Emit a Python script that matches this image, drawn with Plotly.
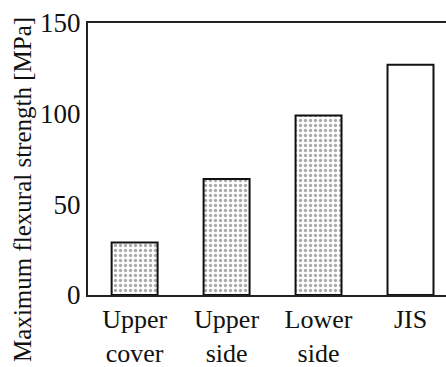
import plotly.graph_objects as go

categories = ["Upper<br>cover", "Upper<br>side", "Lower<br>side", "JIS"]
strength = [29, 64, 99, 127]
pattern_shapes = [".", ".", ".", ""]
y_ticks = [0, 50, 100, 150]

FONT = "Liberation Serif"

fig = go.Figure()
fig.add_trace(go.Bar(
    x=list(range(len(categories))),
    y=strength,
    width=0.5,
    marker=dict(
        color="white",
        line=dict(color="#111111", width=2),
        pattern=dict(shape=pattern_shapes, fgcolor="#555555", bgcolor="white",
                     size=5, solidity=0.35),
    ),
    showlegend=False,
))

fig.update_layout(
    width=446, height=367,
    margin=dict(l=88, r=0, t=23, b=72, autoexpand=False),
    paper_bgcolor="white", plot_bgcolor="white",
    font=dict(family=FONT, size=26, color="#111111"),
    bargap=0.5,
    xaxis=dict(
        range=[-0.507, 3.386], automargin=False,
        tickmode="array", tickvals=list(range(len(categories))), ticktext=categories,
        showline=True, linecolor="#222222", linewidth=2, mirror=True,
        showgrid=False, zeroline=False, ticks="",
        tickfont=dict(size=26, family=FONT),
    ),
    yaxis=dict(
        range=[0, 150], automargin=False,
        tickmode="array", tickvals=y_ticks,
        showline=True, linecolor="#222222", linewidth=2,
        showgrid=False, zeroline=False, ticks="",
        tickfont=dict(size=27, family=FONT),
    ),
    annotations=[dict(
        text="Maximum flexural strength [MPa]",
        xref="paper", yref="paper", x=-0.1816, y=0.39,
        xanchor="center", yanchor="middle", textangle=-90,
        showarrow=False, font=dict(size=25, family=FONT, color="#111111"),
    )],
)

fig.write_html(
    "out.html",
    config={"displayModeBar": False},
    post_script="document.body.style.margin='0';document.body.style.overflow='hidden';",
)
